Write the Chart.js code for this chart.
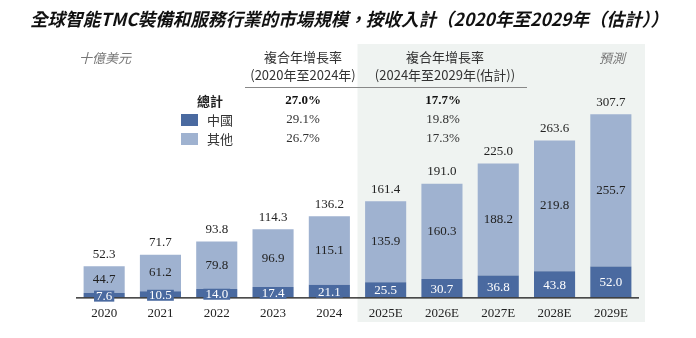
<!DOCTYPE html>
<html>
<head>
<meta charset="utf-8">
<script src="https://cdn.jsdelivr.net/npm/chart.js@4"></script>
<style>
  html, body { margin: 0; padding: 0; background: #fff; }
  #wrap { width: 696px; height: 338px; position: relative; }
</style>
</head>
<body>
<div id="wrap"><canvas id="myChart" width="696" height="338"></canvas></div>
<script>
// data
var years = ["2020", "2021", "2022", "2023", "2024", "2025E", "2026E", "2027E", "2028E", "2029E"];
var china = [7.6, 10.5, 14.0, 17.4, 21.1, 25.5, 30.7, 36.8, 43.8, 52.0];
var other = [44.7, 61.2, 79.8, 96.9, 115.1, 135.9, 160.3, 188.2, 219.8, 255.7];
var totals = [52.3, 71.7, 93.8, 114.3, 136.2, 161.4, 191.0, 225.0, 263.6, 307.7];
var cagrHeads = ["(2020年至2024年)", "(2024年至2029年(估計))"];
var cagrTotal = ["27.0%", "17.7%"];
var cagrChina = ["29.1%", "19.8%"];
var cagrOther = ["26.7%", "17.3%"];

var darkBlue = "#4a6aa0";
var lightBlue = "#9fb2d0";
var serif = "'Liberation Serif', 'DejaVu Serif', serif";
var cjk = "'Noto Sans CJK TC', 'Noto Sans CJK SC', sans-serif";

// shaded forecast area, drawn before anything else
function drawShade(chart) {
  var ctx = chart.ctx;
  var x = chart.scales.x;
  if (!x) return;
  var half = (x.getPixelForValue(1) - x.getPixelForValue(0)) / 2;
  var left = x.getPixelForValue(5) - half;
  var right = x.getPixelForValue(9) + half + 6;
  ctx.save();
  ctx.fillStyle = "#eff3f1";
  ctx.fillRect(left, 44, right - left, 322 - 44);
  ctx.restore();
}

var shadePlugin = {
  id: "shade",
  beforeDraw: function(chart) { drawShade(chart); }
};

// value labels and the header texts
var labelPlugin = {
  id: "labels",
  afterDatasetsDraw: function(chart) {
    var ctx = chart.ctx;
    ctx.save();
    ctx.font = "13px " + serif;
    ctx.textAlign = "center";
    ctx.textBaseline = "middle";

    // axis line
    var ca = chart.chartArea;
    ctx.strokeStyle = "#111";
    ctx.lineWidth = 1.2;
    ctx.beginPath();
    ctx.moveTo(ca.left, ca.bottom + 0.5);
    ctx.lineTo(ca.right, ca.bottom + 0.5);
    ctx.stroke();

    var m0 = chart.getDatasetMeta(0);
    var m1 = chart.getDatasetMeta(1);
    for (var i = 0; i < years.length; i++) {
      // china
      var b = m0.data[i];
      var cy = (b.y + b.base) / 2 + 1;
      var txt = china[i].toFixed(1);
      var w = ctx.measureText(txt).width + 4;
      ctx.fillStyle = darkBlue;
      ctx.fillRect(b.x - w / 2, cy - 5.5, w, 11);
      ctx.fillStyle = "#fff";
      ctx.fillText(txt, b.x, cy);
      // other
      var o = m1.data[i];
      ctx.fillStyle = "#222";
      ctx.fillText(other[i].toFixed(1), o.x, (o.y + o.base) / 2);
      // total
      ctx.fillText(totals[i].toFixed(1), o.x, o.y - 12);
    }

    // title
    ctx.fillStyle = "#111";
    ctx.font = "italic bold 18px " + cjk;
    ctx.textAlign = "left";
    ctx.fillText("全球智能TMC裝備和服務行業的市場規模，按收入計（2020年至2029年（估計））", 30, 19, 638);

    ctx.textAlign = "center";
    ctx.fillStyle = "#777";
    ctx.font = "italic 13px " + cjk;
    ctx.fillText("十億美元", 105, 58);
    ctx.fillText("預測", 612, 58);

    ctx.fillStyle = "#333";
    ctx.font = "13px " + cjk;
    var cols = [303, 445];
    for (var c = 0; c < 2; c++) {
      ctx.fillText("複合年增長率", cols[c], 57);
      ctx.fillText(cagrHeads[c], cols[c], 75);
    }
    ctx.strokeStyle = "#888";
    ctx.lineWidth = 1;
    ctx.beginPath();
    ctx.moveTo(245, 87.5);
    ctx.lineTo(527, 87.5);
    ctx.stroke();

    // legend
    ctx.font = "bold 13px " + cjk;
    ctx.fillStyle = "#222";
    ctx.fillText("總計", 210, 101);
    ctx.fillStyle = darkBlue;
    ctx.fillRect(181, 114, 17, 12);
    ctx.fillStyle = lightBlue;
    ctx.fillRect(181, 133, 17, 12);
    ctx.font = "13px " + cjk;
    ctx.fillStyle = "#333";
    ctx.textAlign = "left";
    ctx.fillText("中國", 207, 120);
    ctx.fillText("其他", 207, 139);

    ctx.textAlign = "center";
    var vx = [303, 443];
    for (var k = 0; k < 2; k++) {
      ctx.font = "bold 13px " + serif;
      ctx.fillStyle = "#111";
      ctx.fillText(cagrTotal[k], vx[k], 101);
      ctx.font = "13px " + serif;
      ctx.fillStyle = "#333";
      ctx.fillText(cagrChina[k], vx[k], 120);
      ctx.fillText(cagrOther[k], vx[k], 139);
    }
    ctx.restore();
  }
};

var ctx = document.getElementById("myChart").getContext("2d");
var chart = new Chart(ctx, {
  type: "bar",
  data: {
    labels: years,
    datasets: [
      { label: "中國", data: china, backgroundColor: darkBlue },
      { label: "其他", data: other, backgroundColor: lightBlue }
    ]
  },
  options: {
    responsive: false,
    animation: false,
    layout: { padding: { left: 76, right: 57, top: 95, bottom: 9 } },
    datasets: { bar: { categoryPercentage: 1, barPercentage: 0.73 } },
    plugins: { legend: { display: false }, tooltip: { enabled: false } },
    scales: {
      x: {
        stacked: true,
        grid: { display: false, drawTicks: false },
        border: { display: false },
        ticks: { color: "#222", font: { family: serif, size: 13 }, padding: 8 }
      },
      y: { stacked: true, display: false, min: 0, max: 340 }
    }
  },
  plugins: [shadePlugin, labelPlugin]
});
</script>
</body>
</html>
